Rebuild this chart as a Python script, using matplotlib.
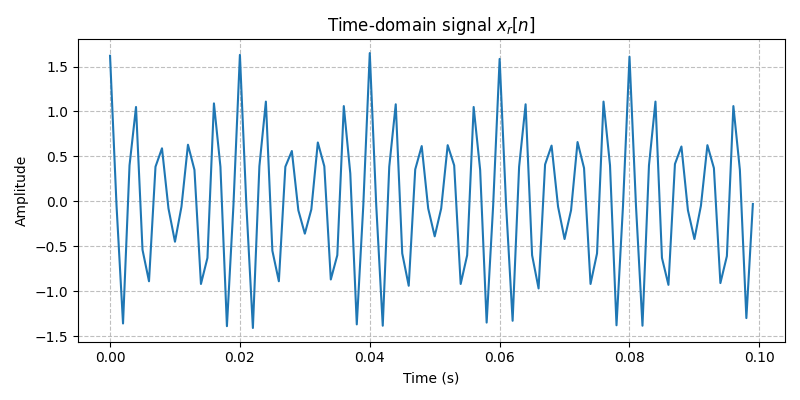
import numpy as np
import matplotlib
matplotlib.use("Agg")
import matplotlib.pyplot as plt

# sampling: 1 kHz, 100 samples
fs = 1000
n_samples = 100
t = np.arange(n_samples) / fs

# amplitude
x_r = [
    1.62, -0.05, -1.36, 0.40, 1.05, -0.54, -0.89, 0.385, 0.59, -0.08,
    -0.45, -0.06, 0.63, 0.35, -0.92, -0.63, 1.09, 0.385, -1.39, -0.05,
    1.63, -0.05, -1.41, 0.39, 1.11, -0.55, -0.89, 0.385, 0.56, -0.10,
    -0.36, -0.09, 0.655, 0.39, -0.87, -0.60, 1.06, 0.31, -1.37, -0.05,
    1.65, -0.05, -1.385, 0.385, 1.08, -0.58, -0.94, 0.355, 0.615, -0.08,
    -0.39, -0.08, 0.625, 0.40, -0.92, -0.60, 1.05, 0.35, -1.35, -0.05,
    1.585, -0.05, -1.33, 0.385, 1.08, -0.60, -0.97, 0.41, 0.62, -0.06,
    -0.42, -0.10, 0.66, 0.37, -0.92, -0.58, 1.11, 0.40, -1.38, -0.05,
    1.61, -0.05, -1.385, 0.40, 1.11, -0.63, -0.93, 0.415, 0.61, -0.10,
    -0.42, -0.05, 0.625, 0.37, -0.91, -0.61, 1.06, 0.35, -1.30, -0.03,
]

fig, ax = plt.subplots(figsize=(8, 4), dpi=100)
ax.plot(t, x_r, color="#1f77b4", linewidth=1.5)
ax.set_title("Time-domain signal $x_r[n]$")
ax.set_xlabel("Time (s)")
ax.set_ylabel("Amplitude")
ax.grid(True, linestyle="--", alpha=0.8)
fig.tight_layout()
fig.savefig("out.png")
